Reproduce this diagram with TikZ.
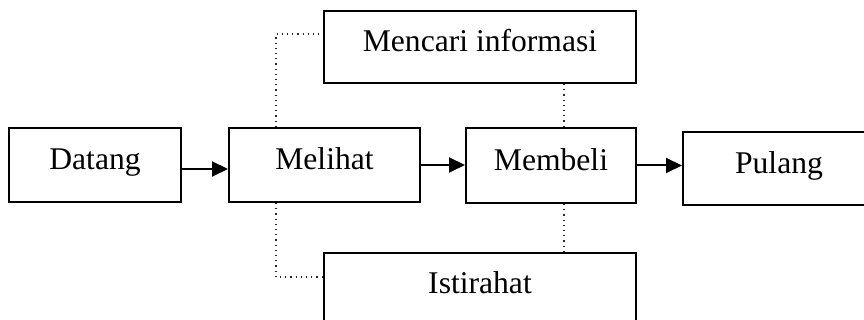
\documentclass[tikz,border=0pt]{standalone}
\usepackage{fontspec}
\setmainfont{Liberation Serif}
\usetikzlibrary{arrows.meta}

\tikzset{
    kotak/.style={draw, line width=1pt, minimum width=#1, inner sep=0pt,
        text height=0.68em, text depth=0.22em,
        font=\fontsize{15.8}{19}\selectfont},
    panah/.style={line width=1pt, -{Triangle[length=8pt,width=7.5pt]}},
    garis/.style={dotted, line width=0.6pt, black!85},
}

\begin{document}
\begin{tikzpicture}[x=0.5pt, y=0.5pt]
    \useasboundingbox (0,0) rectangle (864,320);
    \clip (0,0) rectangle (864,320);

    \coordinate (K1) at (276,286);
    \coordinate (K2) at (564,0);
    \coordinate (K3) at (276,43);

    \node[kotak=86pt, minimum height=37pt] (datang) at (95,155) {Datang};
    \node[kotak=95.5pt, minimum height=37pt] (melihat) at (324.5,155) {Melihat};
    \node[kotak=85pt, minimum height=37.5pt] (membeli) at (551,154.5) {Membeli};
    \node[kotak=96pt, minimum height=36.5pt] (pulang) at (779,151.5) {Pulang};
    \node[kotak=156pt, minimum height=36pt] (mencari) at (480,273) {Mencari informasi};
    \node[kotak=156pt, minimum height=36pt] (istirahat) at (480,31) {Istirahat};

    \draw[panah] ([yshift=-2pt]datang.east) -- ([yshift=-2pt]melihat.west);
    \draw[panah] (melihat.east) -- (melihat.east -| membeli.west);
    \draw[panah] (membeli.east) -- (membeli.east -| pulang.west);

    \draw[garis] (melihat.north -| K1) |- (mencari.west |- K1);
    \draw[garis] (melihat.south -| K3) |- (istirahat.west |- K3);
    \draw[garis] (mencari.south -| K2) -- (membeli.north -| K2);
    \draw[garis] (membeli.south -| K2) -- (istirahat.north -| K2);
\end{tikzpicture}
\end{document}
